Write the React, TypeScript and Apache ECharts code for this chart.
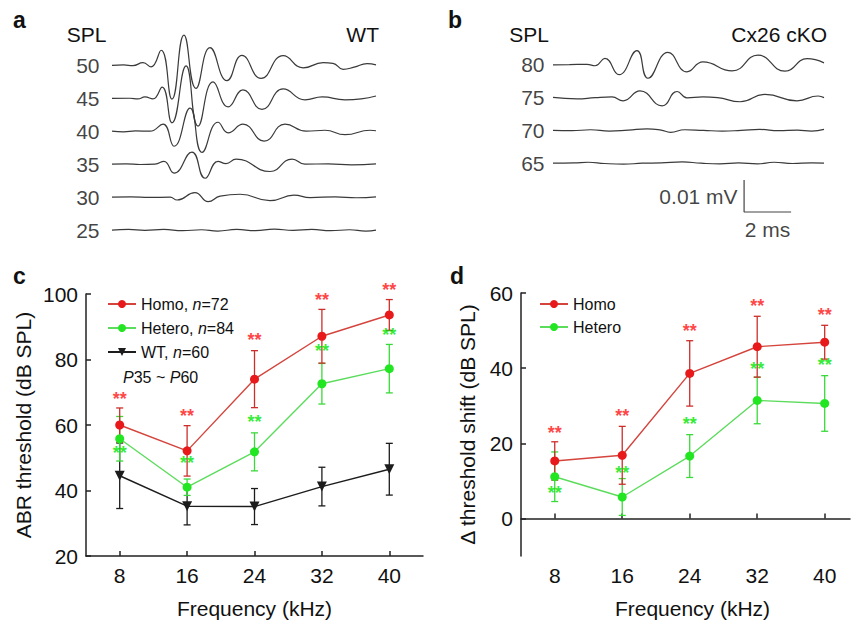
import React, { useEffect, useRef } from 'react';
import * as echarts from 'echarts';

const FONT = '"Liberation Sans", Arial, Helvetica, sans-serif';

// ---------- Panel a: WT ABR waveforms, [time (ms), amplitude (µV)] ----------
const wtLevels = [50, 45, 40, 35, 30, 25];
const wt50 = [[0, 0], [0.5, 0.1], [0.89, -0.1], [1.32, 0.8], [1.66, -0.5], [2.09, 4.7], [2.55, -10.6], [3.06, 9.4], [3.57, -7.2], [4.17, 5.5], [4.89, -4.8], [5.53, 3.1], [6.34, -4.1], [7.28, 3.0], [8.13, -0.8], [8.98, 0.8], [9.4, 0.6], [9.83, -1.25], [10.3, -0.6], [10.85, 0.5], [11.23, 0.15]];
const wt45 = [[0, -0.05], [0.77, 0], [1.1, -0.2], [1.4, 0.4], [1.74, -0.2], [2.13, 3.5], [2.55, -7.7], [3.15, 10.1], [3.66, -8.7], [4.3, 5.1], [4.94, -2.7], [5.57, 2.6], [6.38, -3.5], [7.28, 2.9], [8.21, -0.5], [8.94, 0.4], [9.91, -0.5], [10.6, -0.2], [11.23, 0.7]];
const wt40 = [[0, 0], [0.5, -0.2], [1.0, 0.1], [1.62, 0], [2.17, 2.2], [2.64, -4.7], [3.32, 7.2], [3.83, -6.6], [4.51, 2.8], [4.94, -0.5], [5.57, 2.2], [6.47, -3.1], [7.36, 2.2], [8.26, 0], [9.06, 0.3], [9.91, -1.1], [10.98, 0.3], [11.23, 0.15]];
const wt35 = [[0, 0], [0.6, 0.1], [1.2, -0.1], [1.83, 0], [2.21, 0.9], [2.64, -2.8], [3.4, 3.75], [3.96, -4.4], [4.51, 0.9], [4.85, 0.15], [5.28, 1.6], [6.72, -2.3], [7.66, 1.6], [8.21, 0], [9.2, 0.1], [10.2, -0.2], [11.23, 0.1]];
const wt30 = [[0, 0], [0.8, 0.1], [1.6, -0.1], [2.47, 0], [2.77, -0.9], [3.53, 1.4], [4.09, -1.4], [4.6, 0.3], [5.45, 0.9], [6.72, -1.1], [7.74, 0.6], [8.43, -0.15], [9.5, 0.1], [10.4, -0.2], [11.23, 0.1]];
const wt25 = [[0, 0], [0.7, 0.2], [1.4, -0.1], [2.2, 0.2], [3.0, -0.2], [3.8, 0.1], [4.5, -0.3], [5.3, 0.2], [6.1, -0.2], [6.9, 0.3], [7.7, -0.1], [8.5, 0.2], [9.3, -0.2], [10.1, 0.1], [10.8, -0.3], [11.23, 0]];
const wtTraces = [wt50, wt45, wt40, wt35, wt30, wt25];

// ---------- Panel b: Cx26 cKO ABR waveforms ----------
const koLevels = [80, 75, 70, 65];
const ko80 = [[0, 0], [0.7, 0.05], [1.45, 0.15], [1.79, -0.3], [2.21, 2.0], [2.81, -3.1], [3.57, 4.4], [4.04, -4.2], [4.89, 3.9], [5.7, -2.2], [6.38, 0.9], [7.62, -1.9], [8.72, 3.0], [9.87, -2.0], [10.81, 1.9], [11.53, 0.6]];
const ko75 = [[0, 0.05], [1.02, -0.4], [1.8, 0], [2.51, 0.2], [2.98, -1.0], [3.7, 2.1], [4.64, -2.6], [5.28, 1.9], [5.7, -0.1], [6.38, 0.2], [7.0, 0], [7.96, -1.3], [9.02, 1.0], [10.38, -1.0], [11.28, 0.5], [11.53, 0]];
const ko70 = [[0, 0], [0.8, -0.1], [1.6, 0.2], [2.4, -0.2], [3.2, 0.1], [4.0, 0.5], [4.6, 0.1], [5.0, -0.6], [5.6, 0.2], [6.4, 0], [7.2, -0.2], [8.0, 0], [8.8, 0.3], [9.6, -0.1], [10.4, 0.1], [11.0, -0.2], [11.53, 0.3]];
const ko65 = [[0, 0], [0.9, 0.1], [1.5, 0.3], [2.2, -0.1], [3.0, -0.3], [3.8, 0], [4.6, 0.1], [5.5, 0.4], [6.3, 0], [7.1, -0.2], [7.9, 0.1], [8.7, -0.2], [9.4, 0.3], [10.2, -0.1], [11.0, 0.1], [11.53, 0]];
const koTraces = [ko80, ko75, ko70, ko65];

// scale bar: 0.01 mV (10 µV) x 2 ms
const scaleT0 = 8.13;
const scaleV0 = 8.75;
const scaleMs = 2;
const scaleUv = 10;

// ---------- Panels c, d ----------
const freqs = [8, 16, 24, 32, 40];
const abrHomoMean = [60, 52.1, 74, 87.1, 93.6];
const abrHomoSd = [5.2, 7.7, 8.7, 8.2, 4.7];
const abrHeteroMean = [55.8, 41, 51.8, 72.6, 77.2];
const abrHeteroSd = [6.8, 2.5, 5.8, 6.2, 7.4];
const abrWtMean = [44.5, 35.2, 35.1, 41.2, 46.5];
const abrWtSd = [10, 5.7, 5.5, 5.9, 7.9];
const abrHomoStarY = [67.5, 62.4, 85.5, 97.8, 100.8];
const abrHeteroStarY = [51, 48.2, 60.5, 82.3, 87.2];

const shiftHomoMean = [15.3, 16.8, 38.6, 45.7, 46.9];
const shiftHomoSd = [5.1, 7.7, 8.7, 8.1, 4.5];
const shiftHeteroMean = [11.1, 5.7, 16.6, 31.4, 30.6];
const shiftHeteroSd = [6.6, 4.9, 5.7, 6.2, 7.4];
const shiftHomoStarY = [22.6, 26.9, 49.5, 56.2, 53.8];
const shiftHeteroStarY = [6.6, 11.7, 25.0, 39.4, 40.5];

const shiftTicks = [0, 20, 40, 60];

const RED_LINE = '#d4443c';
const RED_MARK = '#e8191b';
const RED_ERR = '#cc2e2a';
const RED_STAR = '#ff1212';
const GREEN_LINE = '#5cdc5c';
const GREEN_MARK = '#22e622';
const GREEN_ERR = '#3ad93a';
const GREEN_STAR = '#00e600';
const BLACK = '#1c1c1c';
const TEXT = '#111';

const PX_PER_UV = 3.2;
const WAVE_TOP = 15;
const WAVE_H = 225;

function lineSeries(name: string, g: number, mean: number[], color: string, mark: string, symbol: string, rotate = 0) {
  return {
    type: 'line', name, xAxisIndex: g, yAxisIndex: g,
    data: freqs.map((f, i) => [f, mean[i]]),
    symbol, symbolSize: symbol === 'circle' ? 9 : 10, symbolRotate: rotate, showSymbol: true,
    lineStyle: { color, width: 1.4 }, itemStyle: { color: mark },
    clip: false, z: 4, silent: true,
  };
}
function errSeries(g: number, mean: number[], sd: number[], color: string, z: number) {
  return {
    type: 'custom', xAxisIndex: g, yAxisIndex: g,
    data: freqs.map((f, i) => [f, mean[i] - sd[i], mean[i] + sd[i]]),
    encode: { x: 0, y: [1, 2] },
    clip: false, silent: true, z,
    renderItem: (_p: any, api: any) => {
      const x = api.value(0);
      const lo = api.coord([x, api.value(1)]);
      const hi = api.coord([x, api.value(2)]);
      const w = 3.5;
      const style = { stroke: color, lineWidth: 1.3, fill: 'none' };
      return {
        type: 'group', children: [
          { type: 'line', shape: { x1: lo[0], y1: lo[1], x2: hi[0], y2: hi[1] }, style },
          { type: 'line', shape: { x1: hi[0] - w, y1: hi[1], x2: hi[0] + w, y2: hi[1] }, style },
          { type: 'line', shape: { x1: lo[0] - w, y1: lo[1], x2: lo[0] + w, y2: lo[1] }, style },
        ],
      };
    },
  };
}
function starSeries(g: number, ys: number[], color: string) {
  return {
    type: 'scatter', xAxisIndex: g, yAxisIndex: g,
    data: freqs.map((f, i) => [f, ys[i]]),
    symbolSize: 1, itemStyle: { color: 'rgba(0,0,0,0)' },
    label: { show: true, position: 'inside', formatter: '**', color, fontSize: 18, fontWeight: 'bold', fontFamily: FONT, offset: [0, -1] },
    clip: false, silent: true, z: 6,
  };
}

function buildOption() {
  const wtMax = wt50[wt50.length - 1][0];
  const koMax = ko80[ko80.length - 1][0];
  const yWaveMax = WAVE_H / PX_PER_UV;
  const wtOffset = (i: number) => 3.1 + (wtLevels.length - 1 - i) * 10.3;
  const koOffset = (i: number) => 24 + (koLevels.length - 1 - i) * 10.25;

  const traceStyle = { color: '#3a3a3a', width: 1.2 };
  const series: any[] = [];
  wtTraces.forEach((tr, i) => {
    series.push({
      type: 'line', xAxisIndex: 0, yAxisIndex: 0, data: tr.map(([t, v]) => [t, v + wtOffset(i)]),
      symbol: 'none', smooth: 0.5, lineStyle: traceStyle, clip: false, silent: true,
    });
  });
  koTraces.forEach((tr, i) => {
    series.push({
      type: 'line', xAxisIndex: 1, yAxisIndex: 1, data: tr.map(([t, v]) => [t, v + koOffset(i)]),
      symbol: 'none', smooth: 0.5, lineStyle: traceStyle, clip: false, silent: true,
    });
  });
  const levelLabel = (g: number, levels: number[], off: (i: number) => number, dist: number) => ({
    type: 'scatter', xAxisIndex: g, yAxisIndex: g,
    data: levels.map((l, i) => [0, off(i), l]),
    symbolSize: 1, itemStyle: { color: 'rgba(0,0,0,0)' }, silent: true, clip: false,
    label: { show: true, position: 'left', distance: dist, formatter: (p: any) => String(p.value[2]), fontSize: 21, fontFamily: FONT, color: TEXT },
  });
  series.push(levelLabel(0, wtLevels, wtOffset, 12));
  series.push(levelLabel(1, koLevels, koOffset, 8));
  // scale bar
  series.push({
    type: 'line', xAxisIndex: 1, yAxisIndex: 1,
    data: [[scaleT0, scaleV0 + scaleUv], [scaleT0, scaleV0], [scaleT0 + scaleMs, scaleV0]],
    symbol: 'none', lineStyle: { color: '#444', width: 1.2 }, clip: false, silent: true,
  });
  series.push({
    type: 'scatter', xAxisIndex: 1, yAxisIndex: 1, symbolSize: 1, itemStyle: { color: 'rgba(0,0,0,0)' }, silent: true, clip: false,
    data: [
      { value: [scaleT0, scaleV0 + scaleUv / 2], label: { position: 'left', distance: 6, formatter: '0.01 mV' } },
      { value: [scaleT0 + scaleMs / 2, scaleV0], label: { position: 'bottom', distance: 6, formatter: '2 ms' } },
    ],
    label: { show: true, fontSize: 21, fontFamily: FONT, color: TEXT },
  });

  // panel c
  series.push(errSeries(2, abrWtMean, abrWtSd, BLACK, 2));
  series.push(lineSeries('WT, n=60', 2, abrWtMean, BLACK, BLACK, 'triangle', 180));
  series.push(errSeries(2, abrHeteroMean, abrHeteroSd, GREEN_ERR, 3));
  series.push(lineSeries('Hetero, n=84', 2, abrHeteroMean, GREEN_LINE, GREEN_MARK, 'circle'));
  series.push(errSeries(2, abrHomoMean, abrHomoSd, RED_ERR, 3));
  series.push(lineSeries('Homo, n=72', 2, abrHomoMean, RED_LINE, RED_MARK, 'circle'));
  series.push(starSeries(2, abrHomoStarY, RED_STAR));
  series.push(starSeries(2, abrHeteroStarY, GREEN_STAR));
  // panel d
  series.push(errSeries(3, shiftHeteroMean, shiftHeteroSd, GREEN_ERR, 3));
  series.push(lineSeries('Hetero', 3, shiftHeteroMean, GREEN_LINE, GREEN_MARK, 'circle'));
  series.push(errSeries(3, shiftHomoMean, shiftHomoSd, RED_ERR, 3));
  series.push(lineSeries('Homo', 3, shiftHomoMean, RED_LINE, RED_MARK, 'circle'));
  series.push(starSeries(3, shiftHomoStarY, RED_STAR));
  series.push(starSeries(3, shiftHeteroStarY, GREEN_STAR));

  const axLine = { show: true, lineStyle: { color: '#222', width: 1.5 } };
  const tickStyle = { color: '#222', width: 1.5 };
  const labelStyle = { fontSize: 21, fontFamily: FONT, color: TEXT };
  const nameStyle = { fontSize: 21, fontFamily: FONT, color: TEXT };
  const hidden = { show: false };

  const legendText = {
    fontSize: 16, fontFamily: FONT, color: TEXT,
    rich: { i: { fontStyle: 'italic', fontSize: 16, fontFamily: FONT, color: TEXT } },
  };

  const txt = (text: string, x: number, y: number, opts: any = {}) => ({
    type: 'text', x, y,
    style: { text, fontSize: 21, fontFamily: FONT, fill: TEXT, verticalAlign: 'middle', align: 'left', ...opts },
  });

  return {
    animation: false,
    backgroundColor: '#fff',
    grid: [
      { left: 112, top: WAVE_TOP, width: 264, height: WAVE_H },
      { left: 553, top: WAVE_TOP, width: 271, height: WAVE_H },
      { left: 86, top: 294, width: 337, height: 262 },
      { left: 521, top: 293, width: 329, height: 263 },
    ],
    xAxis: [
      { gridIndex: 0, type: 'value', min: 0, max: wtMax, ...hidden },
      { gridIndex: 1, type: 'value', min: 0, max: koMax, ...hidden },
      {
        gridIndex: 2, type: 'value', min: 4, max: 44, axisLine: axLine,
        axisTick: { show: true, inside: true, length: 5, customValues: freqs, lineStyle: tickStyle },
        axisLabel: { customValues: freqs, margin: 9, ...labelStyle },
        splitLine: { show: false },
        name: 'Frequency (kHz)', nameLocation: 'middle', nameGap: 42, nameTextStyle: nameStyle,
      },
      {
        gridIndex: 3, type: 'value', min: 4, max: 43, axisLine: axLine,
        axisTick: { show: true, inside: true, length: 5, customValues: freqs, lineStyle: tickStyle },
        axisLabel: { customValues: freqs, margin: 9, ...labelStyle },
        splitLine: { show: false },
        name: 'Frequency (kHz)', nameLocation: 'middle', nameGap: 42, nameTextStyle: { ...nameStyle, padding: [0, 0, 0, 14] },
      },
    ],
    yAxis: [
      { gridIndex: 0, type: 'value', min: 0, max: yWaveMax, ...hidden },
      { gridIndex: 1, type: 'value', min: 0, max: yWaveMax, ...hidden },
      {
        gridIndex: 2, type: 'value', min: 20, max: 100, interval: 20, axisLine: axLine,
        axisTick: { show: true, inside: true, length: 5, lineStyle: tickStyle },
        axisLabel: { margin: 8, ...labelStyle },
        splitLine: { show: false },
        name: 'ABR threshold (dB SPL)', nameLocation: 'middle', nameGap: 52, nameTextStyle: nameStyle,
      },
      {
        gridIndex: 3, type: 'value', min: -10, max: 60, axisLine: axLine,
        axisTick: { show: true, inside: true, length: 5, customValues: shiftTicks, lineStyle: tickStyle },
        axisLabel: { customValues: shiftTicks, margin: 8, ...labelStyle },
        splitLine: { show: false },
        name: 'Δ threshold shift (dB SPL)', nameLocation: 'middle', nameGap: 43, nameTextStyle: nameStyle,
      },
    ],
    legend: [
      {
        data: ['Homo, n=72', 'Hetero, n=84', 'WT, n=60'],
        orient: 'vertical', left: 107, top: 296, padding: 0, itemWidth: 28, itemHeight: 10, itemGap: 8,
        selectedMode: false, textStyle: legendText,
        formatter: (name: string) => name.replace('n=', '{i|n}='),
      },
      {
        data: ['Homo', 'Hetero'],
        orient: 'vertical', left: 539, top: 296, padding: 0, itemWidth: 28, itemHeight: 10, itemGap: 7,
        selectedMode: false, textStyle: legendText,
      },
    ],
    graphic: [
      txt('a', 13, 20, { fontWeight: 'bold', fontSize: 23 }),
      txt('b', 448, 20, { fontWeight: 'bold', fontSize: 23 }),
      txt('c', 13, 276, { fontWeight: 'bold', fontSize: 23 }),
      txt('d', 450, 276, { fontWeight: 'bold', fontSize: 23 }),
      txt('SPL', 86.5, 34, { align: 'center' }),
      txt('WT', 379, 34, { align: 'right' }),
      txt('SPL', 529, 34, { align: 'center' }),
      txt('Cx26 cKO', 827, 34, { align: 'right' }),
      {
        type: 'text', x: 123, y: 377,
        style: {
          text: '{i|P}35 ~ {i|P}60', fontSize: 16, fontFamily: FONT, fill: TEXT, verticalAlign: 'middle', align: 'left',
          rich: { i: { fontStyle: 'italic', fontSize: 16, fontFamily: FONT, fill: TEXT } },
        },
      },
    ],
    series,
  };
}

export default function App() {
  const ref = useRef<HTMLDivElement>(null);
  useEffect(() => {
    if (!ref.current) return;
    const chart = echarts.init(ref.current, undefined, { renderer: 'svg' });
    chart.setOption(buildOption() as any);
    return () => chart.dispose();
  }, []);
  return (
    <div
      ref={ref}
      style={{ position: 'fixed', left: 0, top: 0, width: 852, height: 622, background: '#fff' }}
    />
  );
}
